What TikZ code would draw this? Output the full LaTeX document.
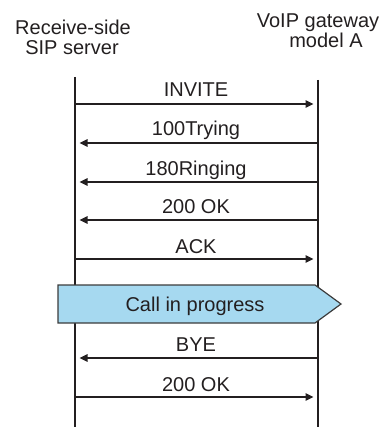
\documentclass[tikz,border=0pt]{standalone}
\usepackage{fontspec}
\setmainfont{Liberation Sans}
\usetikzlibrary{arrows.meta}
\definecolor{ink}{RGB}{35,31,32}
\definecolor{bannerfill}{RGB}{166,217,240}
\definecolor{bannerline}{RGB}{60,60,60}
\tikzset{
  lifeline/.style={draw=ink, line width=1.2pt},
  msg/.style={draw=ink, line width=1.3pt, -{Triangle[length=8pt,width=7.5pt]},
              shorten >=4.5pt},
  msglabel/.style={anchor=base, inner sep=0pt, text=ink,
                   font=\fontsize{20}{22}\selectfont},
  header/.style={anchor=base, inner sep=0pt, text=ink,
                 font=\fontsize{20}{22}\selectfont},
  banner/.style={fill=bannerfill, draw=bannerline, line width=1.2pt, line join=miter}
}
\begin{document}
\begin{tikzpicture}[x=1pt,y=-1pt]
  \useasboundingbox (0,0) rectangle (385,427);

  % Column headings
  \node[header] (srv1) at (73,35) {Receive-side};
  \node[header] (srv2) at (72,55) {SIP server};
  \node[header] (gw1) at (318,28) {VoIP gateway};
  \node[header] (gw2) at (326,48) {model A};

  % Lifelines
  \coordinate (Ltop) at (75,77);
  \coordinate (Lbot) at (75,427);
  \coordinate (Rtop) at (318,80);
  \coordinate (Rbot) at (318,427);
  \draw[lifeline] (Ltop) -- (Lbot);
  \draw[lifeline] (Rtop) -- (Rbot);

  % Message end points on both lifelines
  \foreach \n/\y in {1/104, 2/143, 3/182, 4/220, 5/259, 6/358, 7/397} {
    \coordinate (L\n) at (75,\y);
    \coordinate (R\n) at (318,\y);
  }

  % Messages
  \draw[msg] (L1) -- (R1);
  \draw[msg] (R2) -- (L2);
  \draw[msg] (R3) -- (L3);
  \draw[msg] (R4) -- (L4);
  \draw[msg] (L5) -- (R5);
  \draw[msg] (R6) -- (L6);
  \draw[msg] (L7) -- (R7);

  % Message labels
  \node[msglabel] (m1) at (196,97) {INVITE};
  \node[msglabel] (m2) at (196,136) {100Trying};
  \node[msglabel] (m3) at (196,176) {180Ringing};
  \node[msglabel] (m4) at (196,214) {200 OK};
  \node[msglabel] (m5) at (196,253) {ACK};
  \node[msglabel] (m6) at (196,351) {BYE};
  \node[msglabel] (m7) at (196,391.5) {200 OK};

  % Call-in-progress banner
  \draw[banner] (58,285) -- (315,285) -- (341,304) -- (315,323) -- (58,323) -- cycle;
  \node[msglabel] (call) at (195,311) {Call in progress};
\end{tikzpicture}
\end{document}
